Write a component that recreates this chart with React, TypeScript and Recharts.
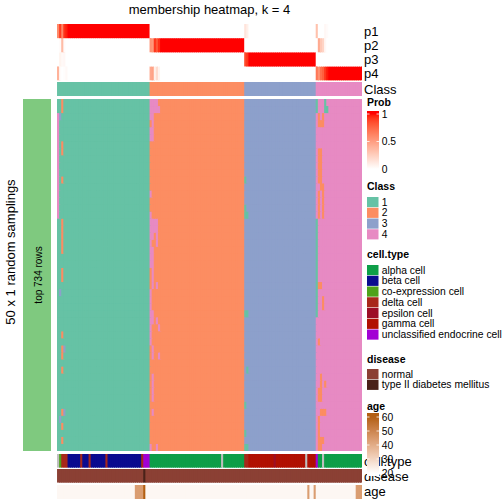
import React from 'react'
import { BarChart, Bar, Cell, XAxis, YAxis } from 'recharts'

// consensus class of each sample, left to right (145 samples)
const consensusClass =
  '11111111111' + '11111111111' + '11111111111' + '11111111111' +
  '222222222222222' + '222222222222222' + '222222222222222' +
  '33333333333333333' + '33333333333333333' +
  '44444444444' + '44444444444'

// membership probabilities that are not a clean 1/0: [sample, p1, p2, p3, p4]
const probOverrides: [number, number, number, number, number][] = [
  [0, 0.6, 0, 0, 0.4],
  [1, 0.9, 0.02, 0.06, 0.02],
  [2, 0.62, 0.35, 0.03, 0],
  [3, 0.93, 0.02, 0.04, 0.01],
  [4, 0.97, 0, 0, 0.03],
  [44, 0, 0.55, 0, 0.45],
  [45, 0, 0.52, 0, 0.48],
  [46, 0, 0.92, 0, 0.08],
  [47, 0, 0.82, 0, 0.18],
  [48, 0, 0.94, 0, 0.06],
  [89, 0.14, 0, 0.86, 0],
  [90, 0.08, 0, 0.92, 0],
  [123, 0.32, 0, 0, 0.68],
  [124, 0, 0.44, 0, 0.56],
  [125, 0, 0.28, 0, 0.72],
  [126, 0, 0.22, 0, 0.78],
  [127, 0.04, 0.04, 0, 0.92],
  [128, 0.02, 0, 0, 0.98],
]

// samplings (rows 0..49) where a sample got another class: [class, samples, rows]
const flips: [number, number[], number[]][] = [
  [2, [2], [0, 1, 6, 7, 11, 17, 18, 19, 20, 21, 24, 25, 33, 35, 36, 38, 44, 46, 48]],
  [4, [0], [2, 3, 4, 5, 6, 7, 8, 9, 10, 11, 12, 13, 14, 15, 16]],
  [3, [1], [2, 27, 45]],
  [3, [3], [35, 44]],
  [4, [44, 45, 46, 47], [0, 17, 18]],
  [4, [44, 45, 46, 47, 48], [1]],
  [4, [44, 45], [2, 4, 5, 21, 22, 23, 30, 31]],
  [4, [45], [3, 24, 25, 35, 36, 39, 40, 41, 42, 44]],
  [4, [44], [13, 16, 19, 20, 27, 28, 29, 32, 33, 34, 49]],
  [4, [45, 47], [19, 26]],
  [4, [47], [20, 31, 49]],
  [4, [48], [32, 36]],
  [1, [89], [11, 15, 43, 47]],
  [1, [89, 90], [16, 30, 49]],
  [1, [90], [38]],
  [1, [123], [0, 1, 17, 18, 19, 20, 21, 22, 23, 24, 25, 26, 27, 28, 29, 30]],
  [1, [127], [0, 1]],
  [1, [128], [1]],
  [2, [124], [2, 13, 14, 15, 16, 34, 45, 46, 47]],
  [2, [126], [2, 3, 12, 13, 14, 15, 16, 28, 29, 44, 48]],
  [2, [124, 125], [3, 7, 8, 9, 10, 11, 26, 41, 42, 48, 49]],
  [2, [125], [12, 39, 40, 44]],
  [2, [127], [40, 44]],
]
const nSamplings = 50

// cell type per sample: a alpha, b beta, c co-expression, d delta, e epsilon, g gamma, u unclassified, n NA
const cellTypes =
  'n' + 'c' + 'ddd' + 'bbbbbb' + 'd' + 'bbb' + 'd' + 'bbbbbbb' + 'd' + 'bbbbbbbbbbbbbbbb' + 'd' + 'uuu' +
  'aaaaaaaaaa' + 'aaaaaaaaaa' + 'aaaaaaaaaa' + 'aaaa' + 'n' + 'aaaaaaaaaa' +
  'dd' + 'gggggggggggg' + 'e' + 'gggggggggggggg' + 'n' + 'gggg' +
  'u' + 'aa' + 'n' + 'aaaaaaaaaa' + 'aaaaaaaa'

const t2dSamples = [41]

const ages = [
  22, 22, 22, 22, 22, 22, 22, 22, 22, 22, 22, 22, 22, 22, 22, 22, 22, 22, 22, 22,
  22, 22, 22, 22, 22, 22, 22, 22, 22, 22, 22, 22, 22, 22, 22, 22, 22, 44, 44, 44,
  44, 60, 22, 22, 22, 22, 22, 22, 22, 22, 22, 22, 22, 22, 22, 22, 22, 22, 22, 22,
  22, 22, 22, 22, 22, 22, 22, 22, 22, 22, 22, 22, 22, 22, 22, 22, 22, 22, 22, 22,
  22, 22, 22, 22, 22, 22, 22, 22, 22, 22, 22, 22, 22, 22, 22, 22, 22, 22, 22, 22,
  22, 22, 22, 22, 22, 22, 22, 22, 22, 22, 22, 22, 22, 22, 22, 22, 22, 22, 22, 44,
  22, 22, 44, 22, 22, 22, 22, 22, 22, 22, 22, 22, 22, 22, 22, 22, 22, 22, 22, 22,
  22, 22, 44, 44, 44,
]

const classColors: Record<string, string> = { '1': '#66C2A5', '2': '#FC8D62', '3': '#8DA0CB', '4': '#E78AC3' }
const cellTypeInfo: [string, string, string][] = [
  ['a', 'alpha cell', '#0E9E48'],
  ['b', 'beta cell', '#0B0B8F'],
  ['c', 'co-expression cell', '#4FA21A'],
  ['d', 'delta cell', '#A8281A'],
  ['e', 'epsilon cell', '#9C0E26'],
  ['g', 'gamma cell', '#B11002'],
  ['u', 'unclassified endocrine cell', '#A200D4'],
]
const diseaseInfo: [string, string][] = [
  ['normal', '#8B4034'],
  ['type II diabetes mellitus', '#4A2219'],
]

// --- colour ramps (Lab interpolation, like colorRamp2) ---
const toLin = (c: number) => { c /= 255; return c <= 0.04045 ? c / 12.92 : Math.pow((c + 0.055) / 1.055, 2.4) }
const toSrgb = (c: number) => {
  const v = c <= 0.0031308 ? 12.92 * c : 1.055 * Math.pow(c, 1 / 2.4) - 0.055
  return Math.round(Math.max(0, Math.min(1, v)) * 255)
}
const hexToLab = (hex: string) => {
  const r = toLin(parseInt(hex.slice(1, 3), 16)), g = toLin(parseInt(hex.slice(3, 5), 16)), b = toLin(parseInt(hex.slice(5, 7), 16))
  const X = (0.4124 * r + 0.3576 * g + 0.1805 * b) / 0.95047
  const Y = 0.2126 * r + 0.7152 * g + 0.0722 * b
  const Z = (0.0193 * r + 0.1192 * g + 0.9505 * b) / 1.08883
  const f = (t: number) => (t > 0.008856 ? Math.cbrt(t) : 7.787 * t + 16 / 116)
  return [116 * f(Y) - 16, 500 * (f(X) - f(Y)), 200 * (f(Y) - f(Z))]
}
const labToHex = (L: number, a: number, bb: number) => {
  const fy = (L + 16) / 116, fx = fy + a / 500, fz = fy - bb / 200
  const inv = (t: number) => (t * t * t > 0.008856 ? t * t * t : (t - 16 / 116) / 7.787)
  const X = 0.95047 * inv(fx), Y = inv(fy), Z = 1.08883 * inv(fz)
  const r = toSrgb(3.2406 * X - 1.5372 * Y - 0.4986 * Z)
  const g = toSrgb(-0.9689 * X + 1.8758 * Y + 0.0415 * Z)
  const b = toSrgb(0.0557 * X - 0.204 * Y + 1.057 * Z)
  return '#' + [r, g, b].map((v) => v.toString(16).padStart(2, '0')).join('')
}
const mixLab = (c0: string, c1: string, t: number) => {
  t = Math.max(0, Math.min(1, t))
  const a = hexToLab(c0), b = hexToLab(c1)
  return labToHex(a[0] + (b[0] - a[0]) * t, a[1] + (b[1] - a[1]) * t, a[2] + (b[2] - a[2]) * t)
}
const probColor = (v: number) => mixLab('#FFFFFF', '#FF0000', v)
const ageColor = (v: number) => mixLab('#FFFFFF', '#B35F12', (v - 20) / 40)

// --- build the colour grids ---
const classes = consensusClass.split('')
const N = classes.length

const probs = [0, 1, 2, 3].map((k) => classes.map((c) => (Number(c) === k + 1 ? 1 : 0)))
probOverrides.forEach(([i, ...p]) => p.forEach((v, k) => { probs[k][i] = v }))
const probRows = probs.map((row) => row.map(probColor))

const sampling = Array.from({ length: nSamplings }, () => classes.slice())
flips.forEach(([cls, cols, rows]) => rows.forEach((r) => cols.forEach((c) => { sampling[r][c] = String(cls) })))
const mainRows = sampling.map((row) => row.map((c) => classColors[c]))

const typeColor: Record<string, string> = { n: '#BEBEBE' }
cellTypeInfo.forEach(([k, , col]) => { typeColor[k] = col })

const classRow = [classes.map((c) => classColors[c])]
const typeRow = [cellTypes.split('').map((t) => typeColor[t])]
const diseaseRow = [classes.map((_, i) => (t2dSamples.includes(i) ? diseaseInfo[1][1] : diseaseInfo[0][1]))]
const ageRow = [ages.map(ageColor)]

const FONT = '"Liberation Sans", Arial, Helvetica, sans-serif'
const X0 = 57
const W = 305
const BAND = W / N

// heatmap cell at the bar's own position; it reaches one pixel under its right and upper
// neighbours (drawn later) so no anti-aliased seams show; the strip div clips the overhang
const HeatCell = (p: any) => (
  <rect x={p.x} y={p.y - 1} width={BAND + 1.2} height={p.height + 1} fill={p.fill} />
)

function Strip({ top, height, rows }: { top: number; height: number; rows: string[][] }) {
  const n = rows.length
  const data = rows[0].map((_, i) => {
    const d: Record<string, number> = { i }
    rows.forEach((__, k) => { d['r' + k] = 1 })
    return d
  })
  return (
    <div style={{ position: 'absolute', left: X0, top, width: W, height, overflow: 'hidden' }}>
      <BarChart width={W} height={height} data={data} margin={{ top: 0, right: 0, bottom: 0, left: 0 }} barCategoryGap={0} barGap={0}>
        <XAxis dataKey="i" hide />
        <YAxis type="number" domain={[0, n]} allowDataOverflow hide />
        {rows.map((_, j) => {
          const k = n - 1 - j
          return (
            <Bar key={k} dataKey={'r' + k} stackId="s" isAnimationActive={false} shape={HeatCell}>
              {rows[k].map((c, i) => (
                <Cell key={i} fill={c} />
              ))}
            </Bar>
          )
        })}
      </BarChart>
    </div>
  )
}

const gradStops = (y0: number, y1: number, valAt: (y: number) => string, steps = 24) =>
  Array.from({ length: steps + 1 }, (_, s) => {
    const y = y0 + ((y1 - y0) * s) / steps
    return <stop key={s} offset={s / steps} stopColor={valAt(y)} />
  })

export default function App() {
  const lx = 367
  const tx = 381.7
  const classTop = 197
  const typeTop = 265
  const disTop = 369
  const pitch = 10.75
  return (
    <div style={{ position: 'absolute', left: 0, top: 0, width: 504, height: 504, background: '#fff', overflow: 'hidden' }}>
      <Strip top={24} height={56.6} rows={probRows} />
      <Strip top={81.7} height={14.3} rows={classRow} />
      <Strip top={99} height={352} rows={mainRows} />
      <Strip top={454} height={13.8} rows={typeRow} />
      <Strip top={469.3} height={13.8} rows={diseaseRow} />
      <Strip top={484.6} height={14} rows={ageRow} />

      <svg width={504} height={504} style={{ position: 'absolute', left: 0, top: 0, pointerEvents: 'none' }} fontFamily={FONT}>
        <defs>
          <linearGradient id="probGrad" x1="0" y1="0" x2="0" y2="1">
            {gradStops(111, 169, (y) => probColor(1 - (y - 114) / 55))}
          </linearGradient>
          <linearGradient id="ageGrad" x1="0" y1="0" x2="0" y2="1">
            {gradStops(413, 476, (y) => ageColor(60 - ((y - 417) / 14) * 10))}
          </linearGradient>
        </defs>

        <text x={209.5} y={14} textAnchor="middle" fontSize={13}>membership heatmap, k = 4</text>

        <rect x={23} y={99} width={28} height={352} fill="#7FC97F" />
        <text transform="translate(41.5,275) rotate(-90)" textAnchor="middle" fontSize={10}>top 734 rows</text>
        <text transform="translate(14.5,252) rotate(-90)" textAnchor="middle" fontSize={13}>50 x 1 random samplings</text>

        {[['p1', 31.1], ['p2', 45.2], ['p3', 59.3], ['p4', 73.4], ['Class', 88.9], ['cell.type', 460.9], ['disease', 476.2], ['age', 491.6]].map(([t, y]) => (
          <text key={t as string} x={364} y={(y as number) + 4.6} fontSize={13}>{t}</text>
        ))}

        {/* Prob legend */}
        <text x={lx} y={106} fontSize={10.5} fontWeight="bold">Prob</text>
        <rect x={lx} y={111} width={12} height={58} fill="url(#probGrad)" />
        {[[1, 114], [0.5, 141.5], [0, 169]].map(([v, y]) => (
          <g key={v}>
            <line x1={lx} x2={lx + 2.5} y1={y} y2={y} stroke="#fff" strokeWidth={0.8} />
            <line x1={lx + 9.5} x2={lx + 12} y1={y} y2={y} stroke="#fff" strokeWidth={0.8} />
            <text x={tx} y={y + 3.7} fontSize={10.3}>{v}</text>
          </g>
        ))}

        {/* Class legend */}
        <text x={lx} y={190} fontSize={10.5} fontWeight="bold">Class</text>
        {['1', '2', '3', '4'].map((c, i) => (
          <g key={c}>
            <rect x={lx} y={classTop + i * pitch} width={11.5} height={pitch - 0.6} fill={classColors[c]} />
            <text x={tx} y={classTop + i * pitch + 8.6} fontSize={10.3}>{c}</text>
          </g>
        ))}

        {/* cell.type legend */}
        <text x={lx} y={258} fontSize={10.5} fontWeight="bold">cell.type</text>
        {cellTypeInfo.map(([k, name, col], i) => (
          <g key={k}>
            <rect x={lx} y={typeTop + i * pitch} width={11.5} height={pitch - 0.6} fill={col} />
            <text x={tx} y={typeTop + i * pitch + 8.6} fontSize={10.3}>{name}</text>
          </g>
        ))}

        {/* disease legend */}
        <text x={lx} y={363} fontSize={10.5} fontWeight="bold">disease</text>
        {diseaseInfo.map(([name, col], i) => (
          <g key={name}>
            <rect x={lx} y={disTop + i * pitch} width={11.5} height={pitch - 0.6} fill={col} />
            <text x={tx} y={disTop + i * pitch + 8.6} fontSize={10.3}>{name}</text>
          </g>
        ))}

        {/* age legend */}
        <text x={lx} y={409.5} fontSize={10.5} fontWeight="bold">age</text>
        <rect x={lx} y={413} width={12} height={63} fill="url(#ageGrad)" />
        {[[60, 417], [50, 431], [40, 445], [30, 459], [20, 473]].map(([v, y]) => (
          <g key={v}>
            <line x1={lx} x2={lx + 2.5} y1={y} y2={y} stroke="#fff" strokeWidth={0.8} />
            <line x1={lx + 9.5} x2={lx + 12} y1={y} y2={y} stroke="#fff" strokeWidth={0.8} />
            <text x={tx} y={y + 3.7} fontSize={10.3}>{v}</text>
          </g>
        ))}
      </svg>
    </div>
  )
}
